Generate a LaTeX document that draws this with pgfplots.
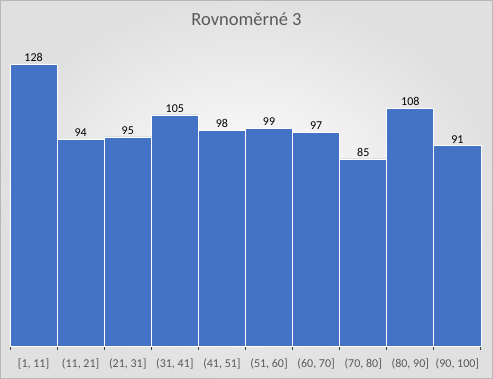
\documentclass[border=0pt]{standalone}
\usepackage{pgfplots}
\pgfplotsset{compat=1.18}
\usepackage{fontspec}
\setmainfont{Carlito}
\definecolor{barblue}{HTML}{4472C4}
\definecolor{axisgray}{HTML}{404040}
\definecolor{labgray}{HTML}{595959}
\begin{document}
\begin{tikzpicture}[x=1pt,y=1pt]
\shade[inner color=white, outer color=black!12] (0,0) rectangle (493,379);
\draw[black!28, line width=0.8pt] (0.4,0.4) rectangle (492.6,378.6);
\node[text=labgray, font=\fontsize{18.5}{20}\selectfont] at (246.5,360) {Rovnoměrné 3};
\begin{axis}[
  at={(10pt,33pt)}, anchor=south west,
  scale only axis, width=471pt, height=308pt,
  xmin=-0.5, xmax=9.5, ymin=0, ymax=140,
  axis y line=none, axis x line*=bottom,
  axis line style={axisgray, line width=1.3pt, -},
  ybar, bar width=1, bar shift=0pt,
  xtick={0,...,9},
  xticklabels={{[1, 11]},{(11, 21]},{(21, 31]},{(31, 41]},{(41, 51]},{(51, 60]},{(60, 70]},{(70, 80]},{(80, 90]},{(90, 100]}},
  major tick length=0pt,
  minor xtick={-0.5,0.5,...,9.5},
  minor tick length=4pt,
  tick align=outside,
  minor tick style={axisgray, line width=1pt},
  /pgf/number format/assume math mode=true,
  ticklabel style={text=labgray, font=\fontsize{12}{13}\selectfont},
  xticklabel style={yshift=-9pt},
  nodes near coords,
  nodes near coords style={text=black, font=\fontsize{12}{13}\selectfont, yshift=-1pt},
  clip=false,
]
\addplot[fill=barblue, draw=white, line width=0.8pt] coordinates {
(0,128) (1,94) (2,95) (3,105) (4,98) (5,99) (6,97) (7,85) (8,108) (9,91)};
\end{axis}
\end{tikzpicture}
\end{document}
